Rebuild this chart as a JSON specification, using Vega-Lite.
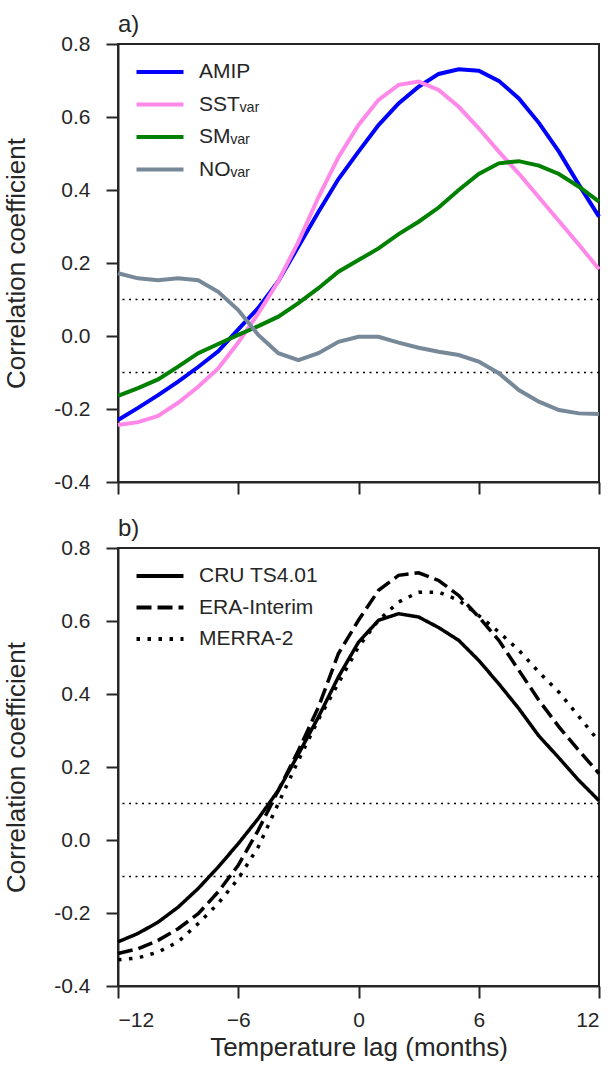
{
  "$schema": "https://vega.github.io/schema/vega-lite/v6.json",
  "background": "white",
  "padding": {"left": 2, "top": 12, "right": 14, "bottom": 4},
  "config": {
    "font": "Liberation Sans",
    "view": {"stroke": "#262626", "strokeWidth": 2},
    "axis": {"domainColor": "#262626", "domainWidth": 2, "tickColor": "#262626", "tickWidth": 2, "tickSize": 12, "labelFontSize": 21, "labelColor": "#262626", "titleFontSize": 26, "titleColor": "#262626", "titleFontWeight": "normal", "grid": false, "labelFont": "Liberation Sans", "titleFont": "Liberation Sans"},
    "axisY": {"labelPadding": 16, "titlePadding": 24},
    "axisX": {"labelPadding": 11, "titlePadding": 4},
    "title": {"fontSize": 24, "fontWeight": "normal", "anchor": "start", "frame": "group", "color": "#262626", "offset": -4, "font": "Liberation Sans"},
    "legend": {"labelFontSize": 21, "labelColor": "#262626", "labelFont": "Liberation Sans", "symbolType": "M-2,0H2", "symbolSize": 552, "rowPadding": 8.5, "labelOffset": 25, "padding": 0, "title": null, "orient": "none", "legendX": 28, "legendY": 14},
    "concat": {"spacing": 20}
  },
  "resolve": {"legend": {"color": "independent", "strokeDash": "independent"}},
  "datasets": {
    "a": [
      {"lag": -12, "series": "AMIP", "r": -0.23}, {"lag": -11, "series": "AMIP", "r": -0.197}, {"lag": -10, "series": "AMIP", "r": -0.162}, {"lag": -9, "series": "AMIP", "r": -0.125}, {"lag": -8, "series": "AMIP", "r": -0.085}, {"lag": -7, "series": "AMIP", "r": -0.042}, {"lag": -6, "series": "AMIP", "r": 0.018}, {"lag": -5, "series": "AMIP", "r": 0.077}, {"lag": -4, "series": "AMIP", "r": 0.15}, {"lag": -3, "series": "AMIP", "r": 0.245}, {"lag": -2, "series": "AMIP", "r": 0.34}, {"lag": -1, "series": "AMIP", "r": 0.43}, {"lag": 0, "series": "AMIP", "r": 0.505}, {"lag": 1, "series": "AMIP", "r": 0.578}, {"lag": 2, "series": "AMIP", "r": 0.637}, {"lag": 3, "series": "AMIP", "r": 0.683}, {"lag": 4, "series": "AMIP", "r": 0.718}, {"lag": 5, "series": "AMIP", "r": 0.731}, {"lag": 6, "series": "AMIP", "r": 0.727}, {"lag": 7, "series": "AMIP", "r": 0.699}, {"lag": 8, "series": "AMIP", "r": 0.651}, {"lag": 9, "series": "AMIP", "r": 0.584}, {"lag": 10, "series": "AMIP", "r": 0.505}, {"lag": 11, "series": "AMIP", "r": 0.414}, {"lag": 12, "series": "AMIP", "r": 0.327},
      {"lag": -12, "series": "SSTᵥₐᵣ", "r": -0.244}, {"lag": -11, "series": "SSTᵥₐᵣ", "r": -0.236}, {"lag": -10, "series": "SSTᵥₐᵣ", "r": -0.219}, {"lag": -9, "series": "SSTᵥₐᵣ", "r": -0.183}, {"lag": -8, "series": "SSTᵥₐᵣ", "r": -0.139}, {"lag": -7, "series": "SSTᵥₐᵣ", "r": -0.089}, {"lag": -6, "series": "SSTᵥₐᵣ", "r": -0.018}, {"lag": -5, "series": "SSTᵥₐᵣ", "r": 0.062}, {"lag": -4, "series": "SSTᵥₐᵣ", "r": 0.15}, {"lag": -3, "series": "SSTᵥₐᵣ", "r": 0.258}, {"lag": -2, "series": "SSTᵥₐᵣ", "r": 0.38}, {"lag": -1, "series": "SSTᵥₐᵣ", "r": 0.49}, {"lag": 0, "series": "SSTᵥₐᵣ", "r": 0.578}, {"lag": 1, "series": "SSTᵥₐᵣ", "r": 0.647}, {"lag": 2, "series": "SSTᵥₐᵣ", "r": 0.688}, {"lag": 3, "series": "SSTᵥₐᵣ", "r": 0.697}, {"lag": 4, "series": "SSTᵥₐᵣ", "r": 0.674}, {"lag": 5, "series": "SSTᵥₐᵣ", "r": 0.628}, {"lag": 6, "series": "SSTᵥₐᵣ", "r": 0.569}, {"lag": 7, "series": "SSTᵥₐᵣ", "r": 0.505}, {"lag": 8, "series": "SSTᵥₐᵣ", "r": 0.445}, {"lag": 9, "series": "SSTᵥₐᵣ", "r": 0.38}, {"lag": 10, "series": "SSTᵥₐᵣ", "r": 0.315}, {"lag": 11, "series": "SSTᵥₐᵣ", "r": 0.25}, {"lag": 12, "series": "SSTᵥₐᵣ", "r": 0.183},
      {"lag": -12, "series": "SMᵥₐᵣ", "r": -0.164}, {"lag": -11, "series": "SMᵥₐᵣ", "r": -0.143}, {"lag": -10, "series": "SMᵥₐᵣ", "r": -0.119}, {"lag": -9, "series": "SMᵥₐᵣ", "r": -0.084}, {"lag": -8, "series": "SMᵥₐᵣ", "r": -0.047}, {"lag": -7, "series": "SMᵥₐᵣ", "r": -0.022}, {"lag": -6, "series": "SMᵥₐᵣ", "r": 0.003}, {"lag": -5, "series": "SMᵥₐᵣ", "r": 0.027}, {"lag": -4, "series": "SMᵥₐᵣ", "r": 0.053}, {"lag": -3, "series": "SMᵥₐᵣ", "r": 0.09}, {"lag": -2, "series": "SMᵥₐᵣ", "r": 0.131}, {"lag": -1, "series": "SMᵥₐᵣ", "r": 0.176}, {"lag": 0, "series": "SMᵥₐᵣ", "r": 0.208}, {"lag": 1, "series": "SMᵥₐᵣ", "r": 0.24}, {"lag": 2, "series": "SMᵥₐᵣ", "r": 0.279}, {"lag": 3, "series": "SMᵥₐᵣ", "r": 0.313}, {"lag": 4, "series": "SMᵥₐᵣ", "r": 0.352}, {"lag": 5, "series": "SMᵥₐᵣ", "r": 0.4}, {"lag": 6, "series": "SMᵥₐᵣ", "r": 0.444}, {"lag": 7, "series": "SMᵥₐᵣ", "r": 0.473}, {"lag": 8, "series": "SMᵥₐᵣ", "r": 0.479}, {"lag": 9, "series": "SMᵥₐᵣ", "r": 0.467}, {"lag": 10, "series": "SMᵥₐᵣ", "r": 0.444}, {"lag": 11, "series": "SMᵥₐᵣ", "r": 0.409}, {"lag": 12, "series": "SMᵥₐᵣ", "r": 0.368},
      {"lag": -12, "series": "NOᵥₐᵣ", "r": 0.172}, {"lag": -11, "series": "NOᵥₐᵣ", "r": 0.158}, {"lag": -10, "series": "NOᵥₐᵣ", "r": 0.153}, {"lag": -9, "series": "NOᵥₐᵣ", "r": 0.158}, {"lag": -8, "series": "NOᵥₐᵣ", "r": 0.153}, {"lag": -7, "series": "NOᵥₐᵣ", "r": 0.121}, {"lag": -6, "series": "NOᵥₐᵣ", "r": 0.071}, {"lag": -5, "series": "NOᵥₐᵣ", "r": 0.003}, {"lag": -4, "series": "NOᵥₐᵣ", "r": -0.047}, {"lag": -3, "series": "NOᵥₐᵣ", "r": -0.066}, {"lag": -2, "series": "NOᵥₐᵣ", "r": -0.047}, {"lag": -1, "series": "NOᵥₐᵣ", "r": -0.016}, {"lag": 0, "series": "NOᵥₐᵣ", "r": -0.002}, {"lag": 1, "series": "NOᵥₐᵣ", "r": -0.002}, {"lag": 2, "series": "NOᵥₐᵣ", "r": -0.018}, {"lag": 3, "series": "NOᵥₐᵣ", "r": -0.032}, {"lag": 4, "series": "NOᵥₐᵣ", "r": -0.043}, {"lag": 5, "series": "NOᵥₐᵣ", "r": -0.052}, {"lag": 6, "series": "NOᵥₐᵣ", "r": -0.07}, {"lag": 7, "series": "NOᵥₐᵣ", "r": -0.102}, {"lag": 8, "series": "NOᵥₐᵣ", "r": -0.148}, {"lag": 9, "series": "NOᵥₐᵣ", "r": -0.18}, {"lag": 10, "series": "NOᵥₐᵣ", "r": -0.203}, {"lag": 11, "series": "NOᵥₐᵣ", "r": -0.212}, {"lag": 12, "series": "NOᵥₐᵣ", "r": -0.214}
    ],
    "b": [
      {"lag": -12, "series": "CRU TS4.01", "r": -0.279}, {"lag": -11, "series": "CRU TS4.01", "r": -0.256}, {"lag": -10, "series": "CRU TS4.01", "r": -0.225}, {"lag": -9, "series": "CRU TS4.01", "r": -0.184}, {"lag": -8, "series": "CRU TS4.01", "r": -0.133}, {"lag": -7, "series": "CRU TS4.01", "r": -0.074}, {"lag": -6, "series": "CRU TS4.01", "r": -0.01}, {"lag": -5, "series": "CRU TS4.01", "r": 0.059}, {"lag": -4, "series": "CRU TS4.01", "r": 0.136}, {"lag": -3, "series": "CRU TS4.01", "r": 0.235}, {"lag": -2, "series": "CRU TS4.01", "r": 0.337}, {"lag": -1, "series": "CRU TS4.01", "r": 0.447}, {"lag": 0, "series": "CRU TS4.01", "r": 0.542}, {"lag": 1, "series": "CRU TS4.01", "r": 0.602}, {"lag": 2, "series": "CRU TS4.01", "r": 0.62}, {"lag": 3, "series": "CRU TS4.01", "r": 0.611}, {"lag": 4, "series": "CRU TS4.01", "r": 0.582}, {"lag": 5, "series": "CRU TS4.01", "r": 0.547}, {"lag": 6, "series": "CRU TS4.01", "r": 0.492}, {"lag": 7, "series": "CRU TS4.01", "r": 0.428}, {"lag": 8, "series": "CRU TS4.01", "r": 0.36}, {"lag": 9, "series": "CRU TS4.01", "r": 0.285}, {"lag": 10, "series": "CRU TS4.01", "r": 0.225}, {"lag": 11, "series": "CRU TS4.01", "r": 0.163}, {"lag": 12, "series": "CRU TS4.01", "r": 0.108},
      {"lag": -12, "series": "ERA-Interim", "r": -0.311}, {"lag": -11, "series": "ERA-Interim", "r": -0.298}, {"lag": -10, "series": "ERA-Interim", "r": -0.275}, {"lag": -9, "series": "ERA-Interim", "r": -0.243}, {"lag": -8, "series": "ERA-Interim", "r": -0.202}, {"lag": -7, "series": "ERA-Interim", "r": -0.142}, {"lag": -6, "series": "ERA-Interim", "r": -0.069}, {"lag": -5, "series": "ERA-Interim", "r": 0.027}, {"lag": -4, "series": "ERA-Interim", "r": 0.136}, {"lag": -3, "series": "ERA-Interim", "r": 0.245}, {"lag": -2, "series": "ERA-Interim", "r": 0.364}, {"lag": -1, "series": "ERA-Interim", "r": 0.511}, {"lag": 0, "series": "ERA-Interim", "r": 0.602}, {"lag": 1, "series": "ERA-Interim", "r": 0.684}, {"lag": 2, "series": "ERA-Interim", "r": 0.725}, {"lag": 3, "series": "ERA-Interim", "r": 0.732}, {"lag": 4, "series": "ERA-Interim", "r": 0.711}, {"lag": 5, "series": "ERA-Interim", "r": 0.67}, {"lag": 6, "series": "ERA-Interim", "r": 0.611}, {"lag": 7, "series": "ERA-Interim", "r": 0.547}, {"lag": 8, "series": "ERA-Interim", "r": 0.465}, {"lag": 9, "series": "ERA-Interim", "r": 0.383}, {"lag": 10, "series": "ERA-Interim", "r": 0.31}, {"lag": 11, "series": "ERA-Interim", "r": 0.245}, {"lag": 12, "series": "ERA-Interim", "r": 0.182},
      {"lag": -12, "series": "MERRA-2", "r": -0.328}, {"lag": -11, "series": "MERRA-2", "r": -0.323}, {"lag": -10, "series": "MERRA-2", "r": -0.307}, {"lag": -9, "series": "MERRA-2", "r": -0.279}, {"lag": -8, "series": "MERRA-2", "r": -0.229}, {"lag": -7, "series": "MERRA-2", "r": -0.174}, {"lag": -6, "series": "MERRA-2", "r": -0.106}, {"lag": -5, "series": "MERRA-2", "r": -0.019}, {"lag": -4, "series": "MERRA-2", "r": 0.1}, {"lag": -3, "series": "MERRA-2", "r": 0.218}, {"lag": -2, "series": "MERRA-2", "r": 0.33}, {"lag": -1, "series": "MERRA-2", "r": 0.43}, {"lag": 0, "series": "MERRA-2", "r": 0.529}, {"lag": 1, "series": "MERRA-2", "r": 0.602}, {"lag": 2, "series": "MERRA-2", "r": 0.652}, {"lag": 3, "series": "MERRA-2", "r": 0.679}, {"lag": 4, "series": "MERRA-2", "r": 0.679}, {"lag": 5, "series": "MERRA-2", "r": 0.657}, {"lag": 6, "series": "MERRA-2", "r": 0.615}, {"lag": 7, "series": "MERRA-2", "r": 0.57}, {"lag": 8, "series": "MERRA-2", "r": 0.52}, {"lag": 9, "series": "MERRA-2", "r": 0.46}, {"lag": 10, "series": "MERRA-2", "r": 0.405}, {"lag": 11, "series": "MERRA-2", "r": 0.338}, {"lag": 12, "series": "MERRA-2", "r": 0.27}
    ],
    "sig": [{"r": 0.1}, {"r": -0.1}]
  },
  "vconcat": [
    {
      "title": "a)",
      "width": 481,
      "height": 438,
      "layer": [
        {
          "data": {"name": "sig"},
          "mark": {"type": "rule", "strokeDash": [2, 4.5], "strokeWidth": 1.6, "color": "#000000"},
          "encoding": {
            "y": {"field": "r", "type": "quantitative", "scale": {"domain": [-0.4, 0.8], "nice": false}, "title": "Correlation coefficient", "axis": {"values": [-0.4, -0.2, 0, 0.2, 0.4, 0.6, 0.8], "labelExpr": "replace(format(datum.value, '.1f'), '−', '-')"}}
          }
        },
        {
          "data": {"name": "a"},
          "mark": {"type": "line", "strokeWidth": 4},
          "encoding": {
            "x": {"field": "lag", "type": "quantitative", "scale": {"domain": [-12, 12], "nice": false}, "axis": {"values": [-12, -6, 0, 6, 12], "labels": false, "title": null}},
            "y": {"field": "r", "type": "quantitative", "scale": {"domain": [-0.4, 0.8], "nice": false}, "title": "Correlation coefficient", "axis": {"values": [-0.4, -0.2, 0, 0.2, 0.4, 0.6, 0.8], "labelExpr": "replace(format(datum.value, '.1f'), '−', '-')"}},
            "color": {"field": "series", "type": "nominal", "scale": {"domain": ["AMIP", "SSTᵥₐᵣ", "SMᵥₐᵣ", "NOᵥₐᵣ"], "range": ["#0000ff", "#ff88e8", "#008000", "#778899"]}, "legend": {"symbolStrokeWidth": 4}}
          }
        }
      ]
    },
    {
      "title": "b)",
      "width": 481,
      "height": 438,
      "layer": [
        {
          "data": {"name": "sig"},
          "mark": {"type": "rule", "strokeDash": [2, 4.5], "strokeWidth": 1.6, "color": "#000000"},
          "encoding": {
            "y": {"field": "r", "type": "quantitative", "scale": {"domain": [-0.4, 0.8], "nice": false}, "title": "Correlation coefficient", "axis": {"values": [-0.4, -0.2, 0, 0.2, 0.4, 0.6, 0.8], "labelExpr": "replace(format(datum.value, '.1f'), '−', '-')"}}
          }
        },
        {
          "data": {"name": "b"},
          "mark": {"type": "line", "strokeWidth": 3.5, "color": "#000000"},
          "encoding": {
            "x": {"field": "lag", "type": "quantitative", "scale": {"domain": [-12, 12], "nice": false}, "title": "Temperature lag (months)", "axis": {"values": [-12, -6, 0, 6, 12], "labelExpr": "datum.value < 0 ? '−' + abs(datum.value) : '' + datum.value"}},
            "y": {"field": "r", "type": "quantitative", "scale": {"domain": [-0.4, 0.8], "nice": false}, "title": "Correlation coefficient", "axis": {"values": [-0.4, -0.2, 0, 0.2, 0.4, 0.6, 0.8], "labelExpr": "replace(format(datum.value, '.1f'), '−', '-')"}},
            "strokeDash": {"field": "series", "type": "nominal", "scale": {"domain": ["CRU TS4.01", "ERA-Interim", "MERRA-2"], "range": [[1, 0], [15, 6], [3.5, 7.5]]}, "legend": {"symbolStrokeWidth": 4, "symbolStrokeColor": "#000000", "rowPadding": 7.5}}
          }
        }
      ]
    }
  ]
}
